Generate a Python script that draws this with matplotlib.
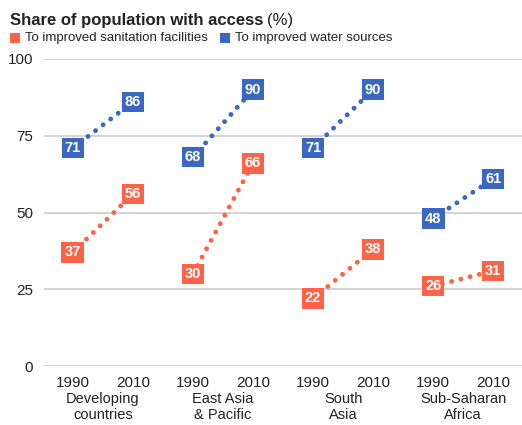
import matplotlib
matplotlib.use("Agg")
from matplotlib import pyplot as plt

regions = ["Developing\ncountries", "East Asia\n& Pacific", "South\nAsia", "Sub-Saharan\nAfrica"]
years = ["1990", "2010"]
sanitation = [(37, 56), (30, 66), (22, 38), (26, 31)]
water = [(71, 86), (68, 90), (71, 90), (48, 61)]
y_ticks = [0, 25, 50, 75, 100]

ORANGE = "#ff6347"
BLUE = "#3a67c2"
TXT = "#222222"

plt.rcParams["font.family"] = ["Liberation Sans", "DejaVu Sans"]

fig = plt.figure(figsize=(5.22, 4.25), dpi=100)
ax = fig.add_axes([44 / 522, 59 / 425, 478 / 522, 307 / 425])

for i in range(len(regions)):
    xs = [2 * i, 2 * i + 1]
    for vals, col in ((water[i], BLUE), (sanitation[i], ORANGE)):
        ax.plot(xs, vals, color=col, linewidth=3.5, linestyle=(0, (0.01, 1.95)),
                dash_capstyle="round", zorder=3)
        for x, v in zip(xs, vals):
            ax.text(x, v, str(v), ha="center", va="center", color="white",
                    fontsize=10.5, fontweight="bold", zorder=4,
                    bbox=dict(boxstyle="square,pad=0.22", fc=col, ec="none"))

ax.set_xlim(-0.48, 7.48)
ax.set_ylim(0, 100)
ax.set_yticks(y_ticks)
ax.set_yticklabels([str(t) for t in y_ticks], fontsize=11, color=TXT)
ax.set_xticks(range(8))
ax.set_xticklabels(years * 4, fontsize=11, color=TXT)
ax.tick_params(length=0, pad=7)
ax.tick_params(axis="y", pad=8)
ax.grid(axis="y", color="#cccccc", linewidth=1.2)
ax.set_axisbelow(True)
for s in ax.spines.values():
    s.set_visible(False)

for i, name in enumerate(regions):
    ax.text(2 * i + 0.5, -0.086, name, transform=ax.get_xaxis_transform(),
            ha="center", va="top", fontsize=10.5, color=TXT, linespacing=1.15)

# title and legend, placed one after another
fig.canvas.draw()
r = fig.canvas.get_renderer()
title = fig.text(10 / 522, 1 - 21 / 425, "Share of population with access", fontsize=12,
                 fontweight="bold", color=TXT, va="center")
x_end = title.get_window_extent(r).x1
fig.text((x_end + 4) / 522, 1 - 21 / 425, "(%)", fontsize=12, color=TXT, va="center")

x = 10
for label, col in (("To improved sanitation facilities", ORANGE),
                   ("To improved water sources", BLUE)):
    fig.patches.append(plt.Rectangle((x / 522, 1 - 43 / 425), 10 / 522, 10 / 425,
                                     transform=fig.transFigure, fc=col, ec="none"))
    t = fig.text((x + 15) / 522, 1 - 38 / 425, label, fontsize=9.5, color=TXT, va="center")
    x = t.get_window_extent(r).x1 + 12

fig.savefig("out.png", dpi=100)
